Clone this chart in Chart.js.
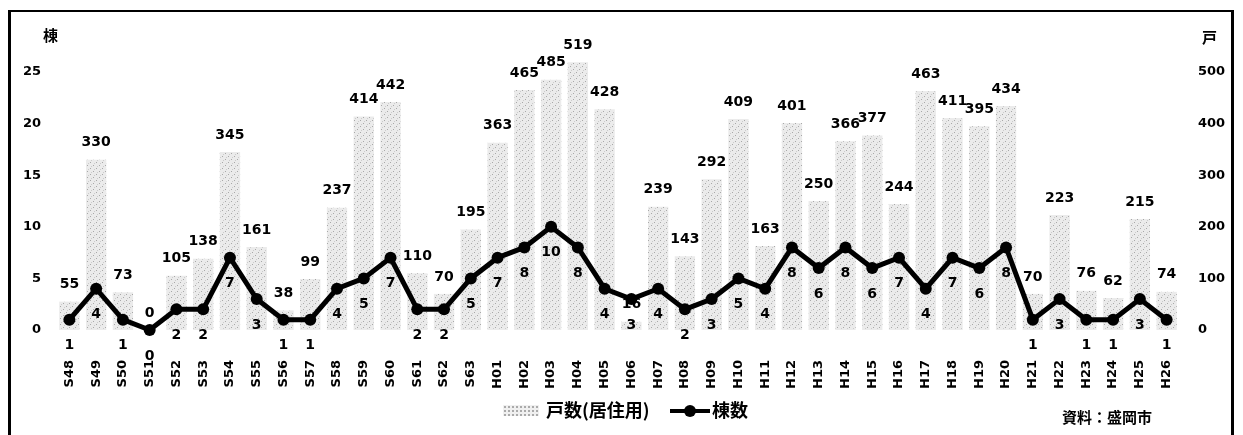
<!DOCTYPE html>
<html><head><meta charset="utf-8">
<script src="https://cdn.jsdelivr.net/npm/chart.js@4"></script>
<style>
html,body{margin:0;padding:0;background:#fff;width:1243px;height:435px;overflow:hidden;}
#frame{position:absolute;left:8px;top:10px;width:1226px;height:440px;border-left:3px solid #000;border-top:2px solid #000;border-right:3px solid #000;box-sizing:border-box;}
#c{position:absolute;left:0;top:0;}
.t{position:absolute;font-family:"Noto Sans CJK JP","DejaVu Sans",sans-serif;font-weight:bold;color:#000;white-space:nowrap;}
.sw{position:absolute;left:503px;top:405px;width:36px;height:11px;background-color:#f0f0f0;background-image:radial-gradient(#aaa 0.8px,transparent 1px);background-size:4px 4px;}
.ln{position:absolute;left:670px;top:409px;width:40px;height:4px;background:#000;}
.dt{position:absolute;left:684px;top:405px;width:12px;height:12px;border-radius:50%;background:#000;}
</style></head>
<body>
<div id="frame"></div>
<canvas id="c" width="1243" height="435"></canvas>
<div class="t" style="left:43px;top:24px;font-size:15px;">棟</div>
<div class="t" style="left:1202px;top:26px;font-size:15px;">戸</div>
<div class="sw"></div>
<div class="t" style="left:546px;top:396px;font-size:18px;">戸数(居住用)</div>
<div class="ln"></div><div class="dt"></div>
<div class="t" style="left:712px;top:396px;font-size:18px;">棟数</div>
<div class="t" style="left:1062px;top:406px;font-size:15px;">資料：盛岡市</div>
<script>
const categories = ['S48','S49','S50','S51','S52','S53','S54','S55','S56','S57','S58','S59','S60','S61','S62','S63',
  'H01','H02','H03','H04','H05','H06','H07','H08','H09','H10','H11','H12','H13','H14','H15','H16','H17','H18','H19','H20',
  'H21','H22','H23','H24','H25','H26'];
const households = [55,330,73,0,105,138,345,161,38,99,237,414,442,110,70,195,363,465,485,519,428,16,239,143,292,409,163,401,250,366,377,244,463,411,395,434,70,223,76,62,215,74];
const buildings = [1,4,1,0,2,2,7,3,1,1,4,5,7,2,2,5,7,8,10,8,4,3,4,2,3,5,4,8,6,8,6,7,4,7,6,8,1,3,1,1,3,1];
const leftTicks = [0,5,10,15,20,25];
const rightTicks = [0,100,200,300,400,500];

function makePattern(){
  const p=document.createElement('canvas');p.width=6;p.height=6;
  const g=p.getContext('2d');
  g.fillStyle='#ebebeb';g.fillRect(0,0,6,6);
  g.fillStyle='#a8a8a8';g.fillRect(0,0,1,1);g.fillRect(3,3,1,1);
  g.fillStyle='#cccccc';g.fillRect(4,1,1,1);g.fillRect(1,4,1,1);
  return document.getElementById('c').getContext('2d').createPattern(p,'repeat');
}

const labelPlugin={
  id:'vals',
  afterDatasetsDraw(chart){
    const ctx=chart.ctx;ctx.save();
    ctx.font='bold 14px "DejaVu Sans"';ctx.fillStyle='#000';ctx.textAlign='center';ctx.textBaseline='middle';
    const mb=chart.getDatasetMeta(0);
    mb.data.forEach((el,i)=>{ctx.fillText(String(households[i]),el.x,el.y-17);});
    const ml=chart.getDatasetMeta(1);
    ml.data.forEach((el,i)=>{ctx.fillText(String(buildings[i]),el.x,el.y+26);});
    ctx.restore();
  }
};

const tickFont={family:'DejaVu Sans',size:13,weight:'bold'};
new Chart(document.getElementById('c'),{
  data:{labels:categories,datasets:[
    {type:'bar',label:'戸数(居住用)',data:households,yAxisID:'yR',backgroundColor:makePattern(),barPercentage:0.76,categoryPercentage:1,clip:false,order:2},
    {type:'line',label:'棟数',data:buildings,yAxisID:'yL',borderColor:'#000',backgroundColor:'#000',borderWidth:5,pointRadius:6,pointBackgroundColor:'#000',pointBorderWidth:0,tension:0,clip:false,order:1}
  ]},
  options:{
    responsive:false,animation:false,
    layout:{padding:{top:72,bottom:0,left:0,right:0}},
    plugins:{legend:{display:false},tooltip:{enabled:false}},
    scales:{
      x:{grid:{display:false},border:{display:false},
         ticks:{color:'#000',font:{family:'DejaVu Sans',size:13,weight:'bold'},maxRotation:90,minRotation:90,padding:22,autoSkip:false},
         afterFit(s){s.height=105;}},
      yL:{position:'left',min:0,max:25,grid:{display:false},border:{display:false},
         afterBuildTicks(s){s.ticks=leftTicks.map(v=>({value:v}));},
         ticks:{color:'#000',font:tickFont,padding:7},
         afterFit(s){s.width=56;}},
      yR:{position:'right',min:0,max:500,grid:{display:false},border:{display:false},
         afterBuildTicks(s){s.ticks=rightTicks.map(v=>({value:v}));},
         ticks:{color:'#000',font:tickFont,padding:10},
         afterFit(s){s.width=63;}}
    }
  },
  plugins:[labelPlugin]
});
</script>
</body></html>
